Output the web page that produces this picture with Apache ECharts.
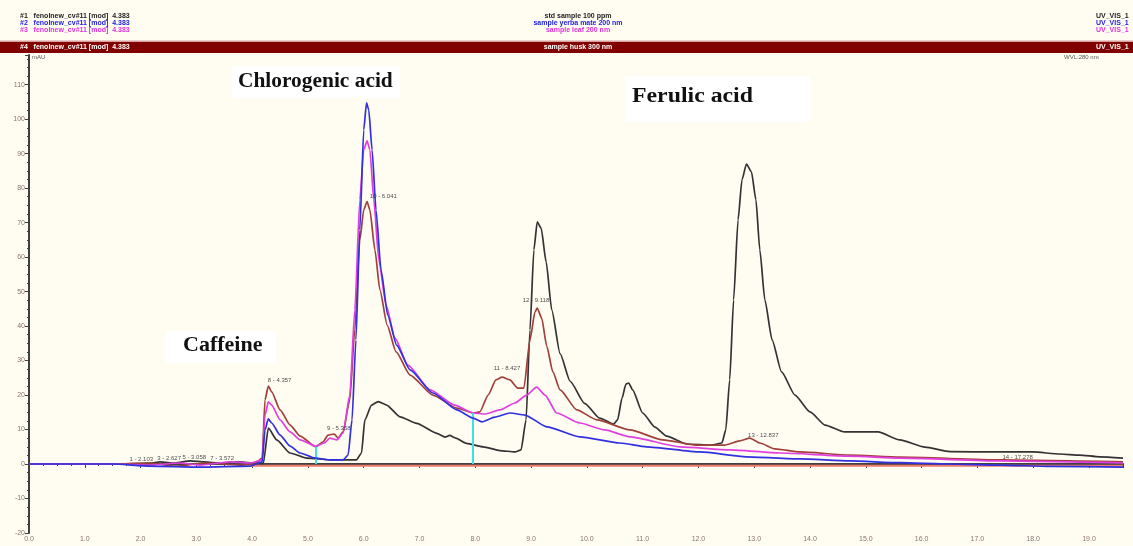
<!DOCTYPE html>
<html><head><meta charset="utf-8">
<script src="https://cdn.jsdelivr.net/npm/echarts@6/dist/echarts.min.js"></script>
<style>html,body{margin:0;padding:0;background:#fffcf2;}#c{width:1133px;height:546px;}</style>
</head><body><div id="c"></div>
<script>
// retention time (min) and absorbance (mAU)
const blackT = [0,1.51,2.17,2.35,2.62,2.89,3.15,3.42,3.78,4.05,4.20,4.29,4.44,4.68,4.98,5.45,5.87,5.96,6.02,6.14,6.26,6.41,6.65,6.95,7.31,7.46,7.54,7.65,7.84,8.14,8.44,8.71,8.82,8.91,8.98,9.05,9.11,9.18,9.27,9.37,9.52,9.70,9.96,10.23,10.48,10.55,10.63,10.70,10.75,10.82,11.00,11.22,11.43,11.79,12.24,12.42,12.49,12.56,12.63,12.71,12.78,12.86,12.95,13.03,13.10,13.19,13.32,13.49,13.73,14.00,14.27,14.62,15.22,15.61,16.06,16.51,17.40,17.99,18.48,18.83,19.19,19.61];
const blackV = [0,0,0.3,0.6,0.3,0.9,0.6,0.3,0.6,0.3,0.2,10.4,7.0,3.2,1.7,1.2,1.2,3.2,12.8,17.1,18.1,17.1,13.7,11.8,8.9,7.8,8.3,7.5,6.0,5.0,3.9,3.5,4.1,12.8,38.9,62.1,70.2,68.4,58.6,44.7,32.0,24.0,17.6,13.3,11.6,12.8,19.1,23.2,23.5,21.5,14.8,10.7,8.1,5.8,5.5,6.1,9.9,24.4,47.6,70.8,82.4,87.0,84.7,76.6,62.1,47.6,36.0,26.7,20.0,15.1,11.3,9.3,9.3,7.0,4.9,3.6,3.5,3.5,2.9,2.6,2.1,1.7];

const blueT = [0,1.51,2.17,3.06,3.96,4.18,4.23,4.29,4.35,4.50,4.68,4.86,5.13,5.39,5.63,5.72,5.79,5.86,5.93,6.00,6.05,6.09,6.15,6.22,6.31,6.43,6.59,6.83,7.24,7.67,7.96,8.12,8.35,8.62,8.89,9.28,9.87,10.59,11.07,12.03,12.86,13.82,14.71,15.61,16.51,17.40,18.30,19.61];
const blueV = [0,0,-0.6,-0.9,-0.6,0.6,9.9,13.1,11.9,8.4,5.2,3.2,1.7,1.2,1.2,2.6,12.8,36.0,67.9,96.9,104.7,102.7,91.1,73.7,56.3,43.2,34.5,27.3,20.6,15.7,13.3,12.2,13.6,14.8,14.2,10.8,7.9,6.1,5.0,3.5,2.1,1.5,0.9,0.4,0,-0.3,-0.7,-0.9];

const magentaT = [0,1.51,2.17,2.71,3.06,3.60,3.96,4.18,4.23,4.29,4.35,4.50,4.68,4.86,5.14,5.30,5.39,5.52,5.63,5.75,5.84,5.93,6.00,6.06,6.11,6.18,6.27,6.40,6.56,6.79,7.19,7.63,7.96,8.17,8.44,8.71,8.92,9.10,9.25,9.46,9.87,10.32,10.77,11.67,12.56,13.46,14.71,15.61,17.40,19.61];
const magentaV = [0,0,-0.3,0.3,-0.3,0.6,0.3,1.2,14.2,18.0,17.1,12.8,9.3,7.0,5.2,6.1,7.5,7.0,9.0,20.0,44.7,76.6,91.1,93.7,91.1,76.6,59.2,46.1,36.5,28.7,21.5,17.1,14.8,14.5,15.7,17.7,20.0,22.3,20.0,14.8,11.9,9.9,7.9,5.0,4.1,3.2,2.3,1.7,0.9,0.3];

const maroonT = [0,1.51,2.17,2.62,3.15,3.78,4.05,4.18,4.23,4.29,4.35,4.50,4.68,4.86,5.14,5.27,5.36,5.47,5.54,5.63,5.75,5.84,5.93,6.00,6.06,6.11,6.20,6.29,6.42,6.58,6.83,7.24,7.67,7.96,8.08,8.23,8.37,8.48,8.62,8.76,8.87,8.98,9.07,9.11,9.19,9.28,9.39,9.52,9.82,10.18,10.77,11.36,11.97,12.47,12.74,12.92,13.10,13.37,13.82,14.71,15.61,17.40,19.61];
const maroonV = [0,0,0.3,-0.6,0.3,-0.3,0,1.7,18.6,22.6,20.9,15.7,11.3,8.1,5.0,6.4,8.4,8.7,7.5,9.3,18.6,38.9,65.0,73.7,76.1,73.7,62.1,50.5,40.3,32.5,25.8,20.0,16.2,14.8,15.1,20.0,24.4,25.2,24.4,22.0,22.0,36.0,44.1,45.2,42.3,34.2,26.7,21.5,15.7,12.8,9.9,7.0,5.5,5.5,6.7,7.5,6.1,4.4,3.5,2.6,2.0,1.2,0.6];

const blankT = [3.96,19.61];
const blankV = [-0.5,-0.5];

// integration delimiters (time, height)
const delimT = [5.14,7.96];
const delimV = [5.0,14.8];

// peak labels
const peakNames = ['1 - 2.103','3 - 2.627','5 - 3.058','7 - 3.572','8 - 4.357','9 - 5.358','10 - 6.041','11 - 8.427','12 - 9.118','13 - 12.837','14 - 17.278'];
const peakT = [1.80,2.30,2.75,3.25,4.28,5.34,6.11,8.33,8.85,12.89,17.45];
const peakV = [1.5,1.7,1.9,1.6,24.4,10.4,77.5,27.8,47.5,8.4,2.0];

// compound annotations
const compoundNames = ['Chlorogenic acid','Ferulic acid','Caffeine'];

const yTicks = {min:-20, max:118.6, interval:10};
const xTicks = {min:0, max:19.61, interval:1};

const legendRows = [
  {left:'#1   fenolnew_cv#11 [mod]  4.383', mid:'std sample 100 ppm', right:'UV_VIS_1', color:'#222222'},
  {left:'#2   fenolnew_cv#11 [mod]  4.383', mid:'sample yerba mate 200 nm', right:'UV_VIS_1', color:'#2222dd'},
  {left:'#3   fenolnew_cv#11 [mod]  4.383', mid:'sample leaf 200 nm', right:'UV_VIS_1', color:'#dd33dd'},
  {left:'#4   fenolnew_cv#11 [mod]  4.383', mid:'sample husk 300 nm', right:'UV_VIS_1', color:'#ffffff'}
];

function pairs(t,v){return t.map((x,i)=>[x,v[i]]);}

const chart = echarts.init(document.getElementById('c'), null, {renderer:'canvas'});

const graphics = [
  {type:'rect', shape:{x:0,y:40.5,width:1133,height:1.5}, style:{fill:'#d8a0a0'}, silent:true},
  {type:'rect', shape:{x:0,y:42,width:1133,height:11}, style:{fill:'#800000'}, silent:true},
  {type:'text', x:32, y:54, style:{text:'mAU', fill:'#555', font:'6px sans-serif'}},
  {type:'text', x:1064, y:54, style:{text:'WVL:280 nm', fill:'#555', font:'6px sans-serif'}}
];
const rowY = [12.5, 19.5, 26.5, 44];
legendRows.forEach((r,i)=>{
  graphics.push({type:'text', x:20, y:rowY[i], style:{text:r.left, fill:r.color, font:'bold 7px sans-serif'}});
  graphics.push({type:'text', x:578, y:rowY[i], style:{text:r.mid, fill:r.color, font:'bold 7px sans-serif', align:'center'}});
  graphics.push({type:'text', x:1096, y:rowY[i], style:{text:r.right, fill:r.color, font:'bold 7px sans-serif'}});
});

// compound label boxes: [boxX, boxY, boxW, boxH, textX, textCenterY, scaleX]
const boxes = [
  [232, 66, 168, 32, 238, 82, 1.07],
  [625, 76, 185, 46, 632, 97, 1.19],
  [166, 331, 110, 32, 183, 346, 1.1]
];
boxes.forEach((b,i)=>{
  graphics.push({type:'rect', shape:{x:b[0],y:b[1],width:b[2],height:b[3]}, style:{fill:'#ffffff'}, z:10, silent:true});
  graphics.push({type:'text', x:b[4], y:b[5], scaleX:b[6], z:11,
    style:{text:compoundNames[i], fill:'#111', font:'bold 20px "Liberation Serif"', verticalAlign:'middle'}});
});

chart.setOption({
  backgroundColor:'#fffcf2',
  animation:false,
  graphic:graphics,
  grid:{left:29, right:10, top:55, bottom:13},
  xAxis:{type:'value', min:xTicks.min, max:xTicks.max, interval:xTicks.interval,
    axisLine:{lineStyle:{color:'#404040', width:2}},
    axisTick:{length:4, lineStyle:{color:'#404040'}},
    minorTick:{show:true, splitNumber:4, length:2, lineStyle:{color:'#404040'}},
    splitLine:{show:false},
    axisLabel:{fontSize:7, color:'#8a7575', margin:3, showMaxLabel:false, formatter:v=>v.toFixed(1)}},
  yAxis:{type:'value', min:yTicks.min, max:yTicks.max, interval:yTicks.interval,
    axisLine:{show:true, lineStyle:{color:'#404040', width:2}},
    axisTick:{show:true, length:4, lineStyle:{color:'#404040'}},
    minorTick:{show:true, splitNumber:4, length:2, lineStyle:{color:'#404040'}},
    splitLine:{show:false},
    axisLabel:{fontSize:7, color:'#8a7575', margin:4, showMaxLabel:false, formatter:v=>String(v)}},
  series:[
    {type:'line', data:pairs(blankT,blankV), symbol:'none', lineStyle:{color:'#f07a6a', width:2}, z:1,
      markLine:{silent:true, symbol:'none', label:{show:false}, lineStyle:{color:'#40e0e8', width:2, type:'solid'},
        data:delimT.map((t,i)=>[{coord:[t,0]},{coord:[t,delimV[i]]}])}},
    {type:'line', data:pairs(blackT,blackV), symbol:'none', smooth:0.2, smoothMonotone:'x', lineStyle:{color:'#333333', width:1.7}, z:2},
    {type:'line', data:pairs(maroonT,maroonV), symbol:'none', smooth:0.2, smoothMonotone:'x', lineStyle:{color:'#a0403a', width:1.7}, z:3},
    {type:'line', data:pairs(magentaT,magentaV), symbol:'none', smooth:0.2, smoothMonotone:'x', lineStyle:{color:'#e040e0', width:1.7}, z:4},
    {type:'line', data:pairs(blueT,blueV), symbol:'none', smooth:0.2, smoothMonotone:'x', lineStyle:{color:'#3030e0', width:1.7}, z:5},
    {type:'scatter', data:peakT.map((t,i)=>({value:[t,peakV[i]], name:peakNames[i]})), symbolSize:0, z:6,
      label:{show:true, position:'right', distance:0, formatter:p=>p.name, fontSize:6, color:'#222'}}
  ]
});
</script></body></html>
